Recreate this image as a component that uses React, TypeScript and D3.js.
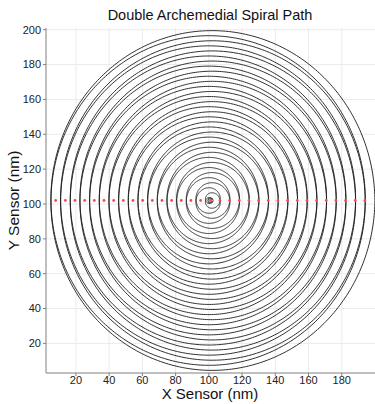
import React from "react";
import * as d3 from "d3";

const W = 375;
const H = 404;

// axis domains (data units, nm)
const xDomain = [2, 200];
const yDomain = [3, 201];
const xTicks = [20, 40, 60, 80, 100, 120, 140, 160, 180];
const yTicks = [20, 40, 60, 80, 100, 120, 140, 160, 180, 200];

// spiral parameters
const spiralCenter = [101, 102];
const spiralPitch = 5.82; // nm per turn
const spiralTurns = 17;

// red sample points along the centre line
const dotX = [
  7.83, 13.65, 19.46, 25.28, 31.09, 36.91, 42.72, 48.54, 54.35, 60.17, 65.98,
  71.8, 77.61, 83.43, 89.24, 95.06, 100.87, 106.69, 112.5, 118.32, 124.13,
  129.95, 135.76, 141.58, 147.39, 153.21, 159.02, 164.84, 170.65, 176.47,
  182.28, 188.1, 193.91,
];
const dotY = 102;

const title = "Double Archemedial Spiral Path";
const xLabel = "X Sensor (nm)";
const yLabel = "Y Sensor (nm)";

export default function App() {
  const left = 46;
  const right = 375;
  const top = 28;
  const bottom = 373;
  const x = d3.scaleLinear().domain(xDomain).range([left, right]);
  const y = d3.scaleLinear().domain(yDomain).range([bottom, top]);

  // double archimedean spiral: out then back in (mirror arm)
  const b = spiralPitch / (2 * Math.PI);
  const phiMax = 2 * Math.PI * spiralTurns;
  const steps = 6000;
  const pts: [number, number][] = [];
  for (let i = 0; i <= 2 * steps; i++) {
    const phi = (i / steps) * phiMax;
    const r = i <= steps ? b * phi : b * (2 * phiMax - phi);
    pts.push([spiralCenter[0] + r * Math.cos(phi), spiralCenter[1] + r * Math.sin(phi)]);
  }
  const line = d3
    .line<[number, number]>()
    .x((d) => x(d[0]))
    .y((d) => y(d[1]));

  const font = "'Liberation Sans', Arial, Helvetica, sans-serif";

  return (
    <svg
      width={W}
      height={H}
      style={{ position: "absolute", left: 0, top: 0, background: "#fff" }}
      fontFamily={font}
    >
      <rect width={W} height={H} fill="#fff" />
      <defs>
        <clipPath id="plot">
          <rect x={left} y={top - 2} width={right - left} height={bottom - top + 2} />
        </clipPath>
      </defs>
      {/* grid */}
      <g stroke="#ebebeb" strokeWidth={1}>
        {xTicks.map((t) => (
          <line key={"gx" + t} x1={x(t)} x2={x(t)} y1={top} y2={bottom} />
        ))}
        {yTicks.map((t) => (
          <line key={"gy" + t} x1={left} x2={right} y1={y(t)} y2={y(t)} />
        ))}
      </g>
      {/* spiral */}
      <g clipPath="url(#plot)">
        <path d={line(pts) || ""} fill="none" stroke="#1a1a1a" strokeWidth={0.9} />
      </g>
      {/* red dots */}
      <g fill="#ff4a4a">
        {dotX.map((d, i) => (
          <circle key={"d" + i} cx={x(d)} cy={y(dotY)} r={1.4} />
        ))}
      </g>
      {/* centre marker */}
      <circle
        cx={x(spiralCenter[0])}
        cy={y(spiralCenter[1])}
        r={2.6}
        fill="none"
        stroke="#111"
        strokeWidth={0.9}
      />
      {/* axes */}
      <g stroke="#808080" strokeWidth={1}>
        <line x1={left} x2={left} y1={top} y2={bottom} />
        <line x1={left} x2={right} y1={bottom} y2={bottom} />
        {yTicks.map((t) => (
          <line key={"ty" + t} x1={left - 3} x2={left} y1={y(t)} y2={y(t)} />
        ))}
        {xTicks.map((t) => (
          <line key={"tx" + t} x1={x(t)} x2={x(t)} y1={bottom} y2={bottom + 3} />
        ))}
      </g>
      <g fontSize={11} fill="#222">
        {yTicks.map((t) => (
          <text key={"ly" + t} x={left - 5} y={y(t)} dy="0.35em" textAnchor="end">
            {t}
          </text>
        ))}
        {xTicks.map((t) => (
          <text key={"lx" + t} x={x(t)} y={bottom + 11} textAnchor="middle">
            {t}
          </text>
        ))}
      </g>
      <text x={210} y={20} textAnchor="middle" fontSize={14.5} fill="#111">
        {title}
      </text>
      <text x={210} y={399} textAnchor="middle" fontSize={15} fill="#111">
        {xLabel}
      </text>
      <text
        transform={`translate(19,${(top + bottom) / 2}) rotate(-90)`}
        textAnchor="middle"
        fontSize={15.5}
        fill="#111"
      >
        {yLabel}
      </text>
    </svg>
  );
}
